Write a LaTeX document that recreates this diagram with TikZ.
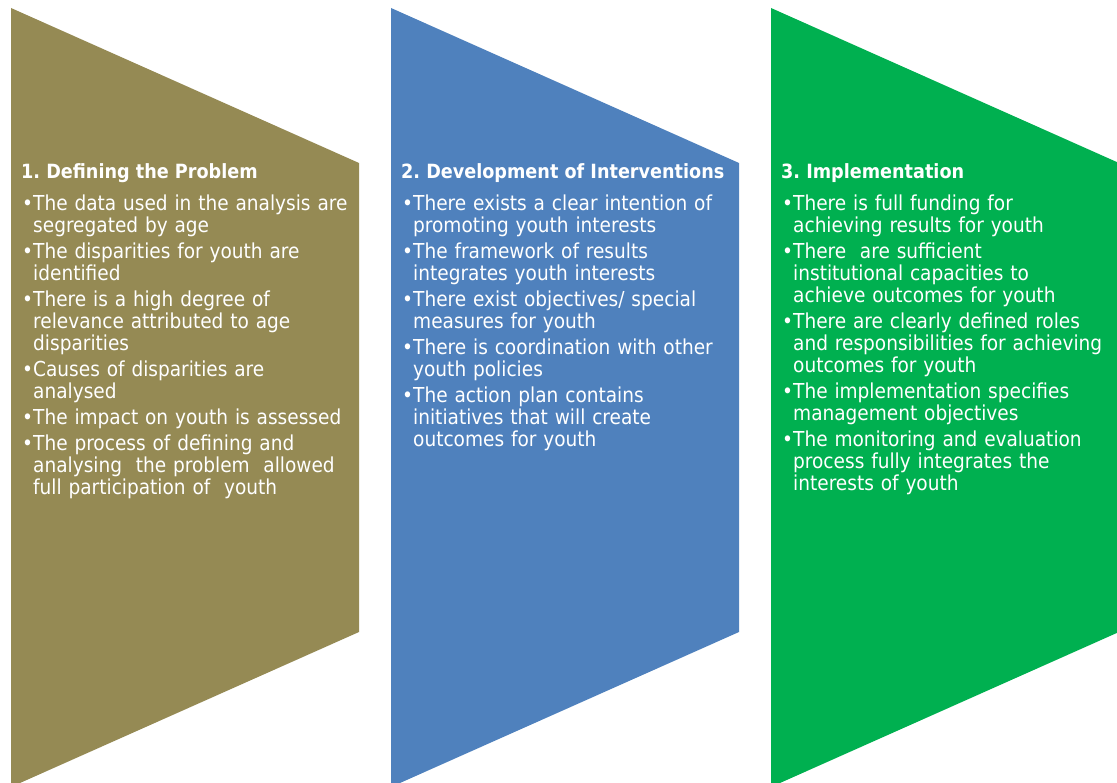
\documentclass[tikz,border=0pt]{standalone}
\usepackage{fontspec}
\setmainfont{DejaVu Sans Condensed}
\frenchspacing
\definecolor{probcolor}{HTML}{958A54}
\definecolor{intcolor}{HTML}{4F81BD}
\definecolor{implcolor}{HTML}{00B050}
\tikzstyle{stagetitle} = [text=white, anchor=base west, inner sep=0pt, font=\fontsize{19.6}{22}\selectfont\bfseries]
\tikzstyle{stagetext} = [text=white, anchor=base west, inner sep=0pt, text width=400pt, font=\fontsize{20.6}{22}\selectfont]
% arrow-like panel, left edge at x=#1
\newcommand{\panel}[2]{\fill[#2] (#1,8) -- ++(348,155) -- ++(0,469) -- ++(-348,155) -- cycle;}
% bullet item with hanging indent
\newcommand{\itm}[1]{\hangindent=11pt\hangafter=1\noindent\makebox[11pt][l]{\textbullet}#1\par}

\begin{document}
\begin{tikzpicture}[x=1pt, y=-1pt]
\useasboundingbox (0,0) rectangle (1117,783);

\panel{11}{probcolor}
\panel{391}{intcolor}
\panel{771}{implcolor}

\node[stagetitle] (probtitle) at (21,179) {1. Defining the Problem};
\node[stagetext] (problist) at (22,211) {\setlength{\parskip}{4pt}%
    \itm{The data used in the analysis are\newline segregated by age}
    \itm{The disparities for youth are\newline identified}
    \itm{There is a high degree of\newline relevance attributed to age\newline disparities}
    \itm{Causes of disparities are\newline analysed}
    \itm{The impact on youth is assessed}
    \itm{The process of defining and\newline analysing\ \ the problem\ \ allowed\newline full participation of\ \ youth}
};

\node[stagetitle] (inttitle) at (401,179) {2. Development of Interventions};
\node[stagetext] (intlist) at (402,211) {\setlength{\parskip}{4pt}%
    \itm{There exists a clear intention of\newline promoting youth interests}
    \itm{The framework of results\newline integrates youth interests}
    \itm{There exist objectives/ special\newline measures for youth}
    \itm{There is coordination with other\newline youth policies}
    \itm{The action plan contains\newline initiatives that will create\newline outcomes for youth}
};

\node[stagetitle] (impltitle) at (781,179) {3. Implementation};
\node[stagetext] (impllist) at (782,211) {\setlength{\parskip}{4pt}%
    \itm{There is full funding for\newline achieving results for youth}
    \itm{There\ \ are sufficient\newline institutional capacities to\newline achieve outcomes for youth}
    \itm{There are clearly defined roles\newline and responsibilities for achieving\newline outcomes for youth}
    \itm{The implementation specifies\newline management objectives}
    \itm{The monitoring and evaluation\newline process fully integrates the\newline interests of youth}
};
\end{tikzpicture}
\end{document}
